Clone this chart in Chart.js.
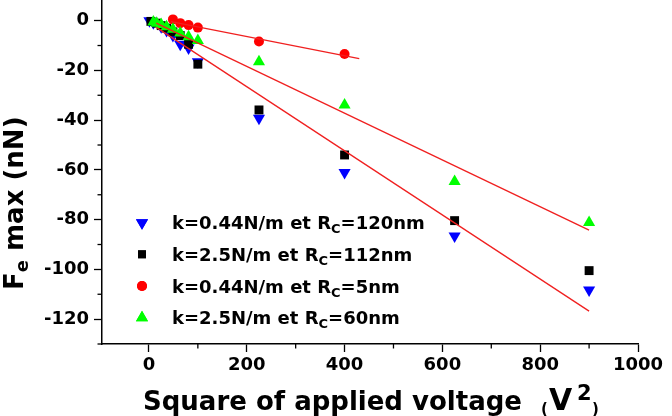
<!DOCTYPE html>
<html>
<head>
<meta charset="utf-8">
<script src="https://cdn.jsdelivr.net/npm/chart.js@4.4.1/dist/chart.umd.min.js"></script>
<style>
  html, body { margin: 0; padding: 0; background: #fff; }
  #wrap { width: 672px; height: 416px; position: relative; }
</style>
</head>
<body>
<div id="wrap"><canvas id="chart"></canvas></div>
<script>
// --- Ticks ---
const xTicks = [0, 200, 400, 600, 800, 1000];
const xMinor = [100, 300, 500, 700, 900];
const yTicks = [-120, -100, -80, -60, -40, -20, 0];
const yMinor = [-130, -110, -90, -70, -50, -30, -10];

// --- Data (square of voltage in V2, force in nN) ---
const blueV2 = [1, 9, 25, 36, 49, 64, 81, 100, 225, 400, 625, 900];
const blueF  = [0, -0.8, -2.5, -4, -6, -9.5, -11, -16.5, -39.2, -61.1, -86.6, -108.3];

const blackV2 = [4, 16, 25, 36, 49, 64, 81, 100, 225, 400, 625, 900];
const blackF  = [-0.3, -1, -2, -3, -4.5, -6, -9.5, -17.5, -35.9, -54, -80.4, -100.5];

const redV2 = [49, 64, 81, 100, 225, 400];
const redF  = [0.5, -1, -1.8, -2.8, -8.4, -13.4];

const greenV2 = [9, 16, 25, 36, 49, 64, 81, 100, 225, 400, 625, 900];
const greenF  = [-0.5, -1, -1.5, -2.5, -3.5, -5, -6.5, -8, -16.5, -33.9, -64.7, -81.2];

// --- Fit lines (end points) ---
const fitRedV2 = [45, 430];
const fitRedF  = [-0.4, -15.3];
const fitGreenV2 = [15, 900];
const fitGreenF  = [-1, -84.2];
const fitBlackV2 = [15, 900];
const fitBlackF  = [-2.7, -116.8];

// --- Legend ---
const legendItems = [
  { style: 'triangle', rotation: 180, radius: 7, color: '#0000ff', pre: 'k=0.44N/m et R', sub: 'C', post: '=120nm' },
  { style: 'rect', rotation: 0, radius: 5.6, color: '#000000', pre: 'k=2.5N/m et R', sub: 'C', post: '=112nm' },
  { style: 'circle', rotation: 0, radius: 5, color: '#ff0000', pre: 'k=0.44N/m et R', sub: 'C', post: '=5nm' },
  { style: 'triangle', rotation: 0, radius: 7, color: '#00ff00', pre: 'k=2.5N/m et R', sub: 'C', post: '=60nm' }
];

const FONT = '"DejaVu Sans", sans-serif';

function pts(xs, ys) {
  return xs.map((x, i) => ({ x: x, y: ys[i] }));
}

function scatterSet(label, xs, ys, style, rotation, radius, color, order) {
  return {
    type: 'scatter',
    label: label,
    data: pts(xs, ys),
    pointStyle: style,
    rotation: rotation,
    pointRadius: radius,
    pointBackgroundColor: color,
    pointBorderColor: color,
    pointBorderWidth: 0,
    clip: false,
    order: order
  };
}

function fitSet(xs, ys) {
  return {
    type: 'line',
    data: pts(xs, ys),
    borderColor: '#f02020',
    borderWidth: 1.3,
    pointRadius: 0,
    fill: false,
    order: 0
  };
}

// --- Minor ticks, titles and legend ---
const decorPlugin = {
  id: 'decor',
  afterDraw(chart) {
    const ctx = chart.ctx;
    const xs = chart.scales.x, ys = chart.scales.y;
    const area = chart.chartArea;
    ctx.save();
    ctx.strokeStyle = '#000';
    ctx.lineWidth = 1.3;
    xMinor.forEach(v => {
      const p = xs.getPixelForValue(v);
      ctx.beginPath(); ctx.moveTo(p, area.bottom); ctx.lineTo(p, area.bottom + 4.5); ctx.stroke();
    });
    yMinor.forEach(v => {
      const p = ys.getPixelForValue(v);
      ctx.beginPath(); ctx.moveTo(area.left - 4.5, p); ctx.lineTo(area.left, p); ctx.stroke();
    });

    // legend
    ctx.textBaseline = 'alphabetic';
    ctx.textAlign = 'left';
    const rowsY = [222.7, 254.3, 286, 317.7];
    legendItems.forEach((it, i) => {
      const y = rowsY[i];
      ctx.fillStyle = it.color;
      ctx.beginPath();
      Chart.helpers.drawPoint(ctx, { pointStyle: it.style, rotation: it.rotation, radius: it.radius, borderWidth: 0 }, 142, y);
      ctx.fill();
      ctx.fillStyle = '#000';
      let x = 172;
      ctx.font = 'bold 18px ' + FONT;
      ctx.fillText(it.pre, x, y + 6.5);
      x += ctx.measureText(it.pre).width;
      ctx.font = 'bold 13px ' + FONT;
      ctx.fillText(it.sub, x, y + 10.5);
      x += ctx.measureText(it.sub).width;
      ctx.font = 'bold 18px ' + FONT;
      ctx.fillText(it.post, x, y + 6.5);
    });

    // x title
    ctx.font = 'bold 26px ' + FONT;
    ctx.fillText('Square of applied voltage', 143, 410);
    ctx.font = 'bold 15px ' + FONT;
    ctx.fillText('(', 541, 414);
    ctx.font = 'bold 30px ' + FONT;
    ctx.fillText('V', 549, 410);
    ctx.font = 'bold 21px ' + FONT;
    ctx.fillText('2', 577, 400);
    ctx.font = 'bold 15px ' + FONT;
    ctx.fillText(')', 592, 414);

    // y title
    ctx.translate(23, 290);
    ctx.rotate(-Math.PI / 2);
    let tx = 0;
    ctx.font = 'bold 26px ' + FONT;
    ctx.fillText('F', tx, 0);
    tx += ctx.measureText('F').width;
    ctx.font = 'bold 18px ' + FONT;
    ctx.fillText('e', tx, 5);
    tx += ctx.measureText('e').width;
    ctx.font = 'bold 26px ' + FONT;
    ctx.fillText(' max (nN)', tx, 0);
    ctx.restore();
  }
};

new Chart(document.getElementById('chart'), {
  data: {
    datasets: [
      fitSet(fitRedV2, fitRedF),
      fitSet(fitGreenV2, fitGreenF),
      fitSet(fitBlackV2, fitBlackF),
      scatterSet('green', greenV2, greenF, 'triangle', 0, 7, '#00ff00', 1),
      scatterSet('red', redV2, redF, 'circle', 0, 5, '#ff0000', 1),
      scatterSet('black', blackV2, blackF, 'rect', 0, 6.3, '#000000', 2),
      scatterSet('blue', blueV2, blueF, 'triangle', 180, 7, '#0000ff', 3)
    ]
  },
  options: {
    responsive: true,
    maintainAspectRatio: false,
    animation: false,
    layout: { autoPadding: false, padding: { left: 0, right: 34, top: 0, bottom: 0 } },
    plugins: { legend: { display: false }, tooltip: { enabled: false } },
    scales: {
      x: {
        type: 'linear',
        min: -96,
        max: 1000,
        afterBuildTicks: s => { s.ticks = xTicks.map(v => ({ value: v })); },
        afterFit: s => { s.height = 72; s.paddingLeft = 0; s.paddingRight = 0; },
        border: { display: true, color: '#000', width: 1.5 },
        grid: { drawOnChartArea: false, drawTicks: true, tickLength: 8, color: '#000', tickWidth: 1.3 },
        ticks: { color: '#000', padding: 3, maxRotation: 0, callback: v => String(v), font: { family: FONT, weight: 'bold', size: 18 } }
      },
      y: {
        type: 'linear',
        min: -130,
        max: 8.3,
        afterBuildTicks: s => { s.ticks = yTicks.map(v => ({ value: v })); },
        afterFit: s => { s.width = 102; s.paddingTop = 0; s.paddingBottom = 0; },
        border: { display: true, color: '#000', width: 1.5 },
        grid: { drawOnChartArea: false, drawTicks: true, tickLength: 8, color: '#000', tickWidth: 1.3 },
        ticks: { color: '#000', padding: 5, callback: v => String(v), font: { family: FONT, weight: 'bold', size: 18 } }
      }
    }
  },
  plugins: [decorPlugin]
});
</script>
</body>
</html>
